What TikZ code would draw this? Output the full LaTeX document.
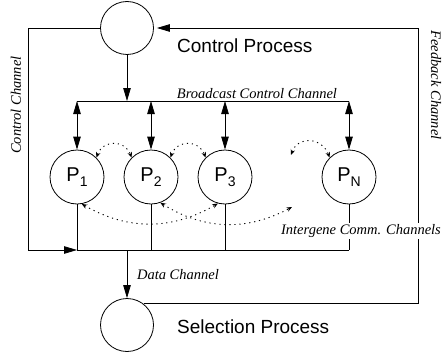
\documentclass[tikz,border=0pt]{standalone}
\usepackage{fontspec}
\setsansfont{Liberation Sans}
\newfontfamily\chanfont{Liberation Serif}
\usetikzlibrary{arrows.meta}
% subscript of a gene label, set below the baseline
\newcommand\genesub[1]{\raisebox{-5pt}{\fontsize{14}{14}\selectfont #1}}
\begin{document}
\begin{tikzpicture}[x=1pt,y=1pt,
  link/.style={line width=0.8pt},
  onearrow/.style={-{Triangle[length=13pt,width=7.5pt]}},
  twoarrow/.style={{Triangle[length=13pt,width=7.5pt]}-{Triangle[length=13pt,width=7.5pt]}},
  proc/.style={circle, draw, line width=0.8pt, minimum size=53pt, inner sep=0pt},
  gene/.style={circle, draw, line width=0.8pt, minimum size=54pt, inner sep=0pt,
    font=\sffamily\fontsize{20}{20}\selectfont},
  proclabel/.style={font=\sffamily\fontsize{19}{22}\selectfont, inner sep=0pt, anchor=base west},
  chanlabel/.style={font=\chanfont\itshape\fontsize{14.5}{16}\selectfont, inner sep=1pt},
  comm/.style={line width=0.9pt, dash pattern=on 1.2pt off 3.8pt,
    {Stealth[length=5.5pt,width=4.5pt]}-{Stealth[length=5.5pt,width=4.5pt]}},
]
\useasboundingbox (0,0) rectangle (443,354);

% the two processes
\node[proc] (cp) at (127,326) {};
\node[proclabel] (cpt) at (177,301) {Control Process};
\node[proc] (sp) at (127,29) {};
\node[proclabel] (spt) at (177,21) {Selection Process};

% the genes
\node[gene] (g1) at (77,177) {P\genesub{1}};
\node[gene] (g2) at (151,177) {P\genesub{2}};
\node[gene] (g3) at (225,177) {P\genesub{3}};
\node[gene] (gn) at (349,177) {P\genesub{N}};

% broadcast control channel
\coordinate (bl) at (77,253);
\coordinate (br) at (349,253);
\coordinate (bm) at (127,253);
\draw[link] (bl) -- (br);
\draw[link,onearrow] (cp) -- (bm);
\foreach \g in {g1,g2,g3,gn}
  \draw[link,twoarrow] (\g.north |- bl) -- (\g.north);

% control channel and data bus
\coordinate (dl) at (28,104);
\coordinate (d1) at (77,104);
\coordinate (dm) at (127,104);
\coordinate (dr) at (349,104);
\draw[link] (cp.west) -| (dl);
\draw[link,onearrow] (dl) -- (d1);
\draw[link] (d1) -- (dr);
\foreach \g in {g1,g2,g3,gn}
  \draw[link] (\g.south) -- (\g.south |- dl);

% data channel
\draw[link,onearrow] (dm) -- (sp.north);

% feedback channel
\coordinate (fb) at (418,326);
\draw[link,onearrow,shorten >=3pt] (sp.52) -| (fb) -- (cp.east);

% intergene communication
\coordinate (pf) at (291,199);
\coordinate (pb) at (292,147);
\draw[comm] (g1.45) to[out=70,in=110,looseness=1.4] (g2.135);
\draw[comm] (g2.45) to[out=70,in=110,looseness=1.4] (g3.135);
\draw[comm] (pf) to[out=70,in=110,looseness=1.4] (gn.135);
\draw[comm] (g1.-80) to[bend right=30] (g3.-105);
\draw[comm] (g2.-70) to[bend right=30] (pb);

% channel labels
\node[chanlabel] (bcl) at (257,260) {Broadcast Control Channel};
\node[chanlabel, fill=white] (icl) at (361,123) {Intergene Comm. Channels};
\node[chanlabel] (dcl) at (178,79) {Data Channel};
\node[chanlabel, rotate=90] (ccl) at (16,249) {Control Channel};
\node[chanlabel, rotate=-90] (fcl) at (436,269) {Feedback Channel};
\end{tikzpicture}
\end{document}
